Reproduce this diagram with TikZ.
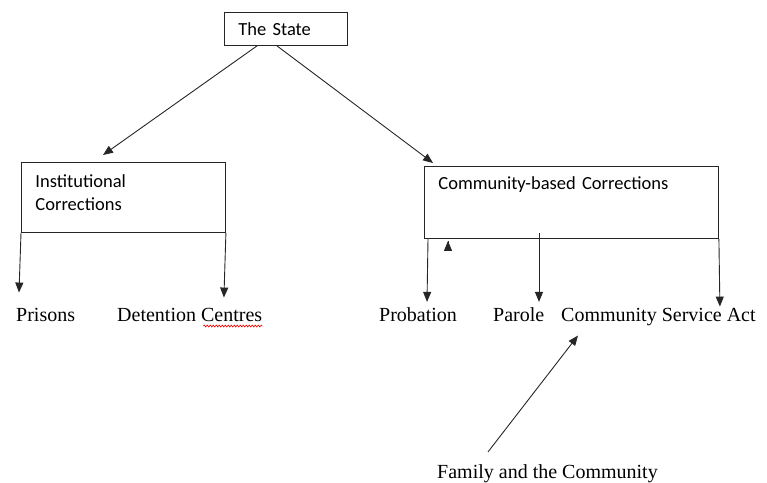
\documentclass[tikz,border=0pt]{standalone}
\usepackage{fontspec}
\setmainfont{Liberation Serif}
\newfontfamily\calibri{Carlito}
\usetikzlibrary{arrows.meta}
\usetikzlibrary{calc}
\usetikzlibrary{decorations.pathmorphing}

\begin{document}
\begin{tikzpicture}[x=1pt, y=-1pt,
  box/.style={draw=black!85, line width=0.9pt, anchor=north west, align=left,
    inner xsep=14pt, inner ysep=6pt, font=\calibri\fontsize{18.5}{23}\selectfont},
  lbl/.style={anchor=base west, inner sep=0pt, font=\fontsize{20}{24}\selectfont},
  arr/.style={draw=black!85, line width=0.9pt, -{Triangle[length=10pt,width=8pt]}}]

\useasboundingbox (0,0) rectangle (767,482);

% boxes
\node[box, text width=95pt, text height=17pt, text depth=4pt] (state) at (224,12) {The State};
\node[box, text width=176pt, text height=19pt, text depth=39pt] (inst) at (21,162) {Institutional\\Corrections};
\node[box, text width=266pt, text height=17pt, text depth=43pt] (comm) at (424,166) {Community-based Corrections};

% labels
\node[lbl] (prisons) at (16,321) {Prisons};
\node[lbl] (detention) at (117,321) {Detention Centres};
\node[lbl] (probation) at (379,321) {Probation};
\node[lbl] (parole) at (493,321) {Parole};
\node[lbl] (csa) at (561,321) {Community Service Act};
\node[lbl] (family) at (437,478) {Family and the Community};

% from the state
\draw[arr] ([xshift=33pt]state.south west) -- ([xshift=82pt,yshift=7pt]inst.north west);
\draw[arr] ([xshift=53pt]state.south west) -- ([xshift=9pt,yshift=3pt]comm.north west);

% institutional
\draw[arr] (inst.south west) -- ($(inst.south west |- prisons.north)+(-2,-15)$);
\draw[arr] (inst.south east) -- ($(inst.south east |- detention.north)+(-2,-10)$);

% community-based
\draw[arr] ($(comm.south west)+(4,0)$) -- ($(comm.south west |- probation.north)+(3,-5)$);
\draw[arr] ($(comm.south west)+(115,-6)$) -- ($(comm.south west |- parole.north)+(115,-5)$);
\draw[arr] (comm.south east) -- ($(comm.south east |- csa.north)+(1,-1)$);
\draw[arr] ($(comm.south west)+(24,2.5)$) -- ($(comm.south west)+(24,2)$);

% family
\draw[arr] ($(family.north west)+(51,-12)$) -- ($(csa.south west)+(17,10)$);

\draw[red, line width=0.6pt, decorate, decoration={snake, amplitude=1pt, segment length=3pt}]
  ($(detention.base east)+(-59,5)$) -- ($(detention.base east)+(0,5)$);

\end{tikzpicture}
\end{document}
